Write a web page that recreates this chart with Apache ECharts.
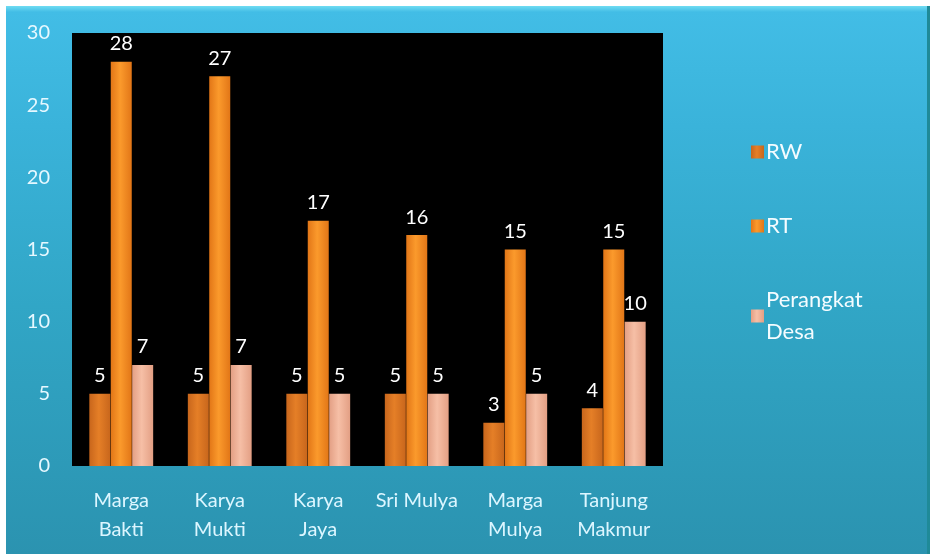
<!DOCTYPE html>
<html>
<head>
<meta charset="utf-8">
<script src="https://cdn.jsdelivr.net/npm/echarts@6/dist/echarts.min.js"></script>
<style>
  html, body { margin: 0; padding: 0; background: #ffffff; }
  #frame {
    position: absolute; left: 6px; top: 6px; width: 921px; height: 548px;
    background: linear-gradient(to bottom, #6fdcf2 0px, #42bde6 6px, #3ab3da 120px, #31a6c6 300px, #2b93b0 548px);
    border-right: 3px solid #1f8a98;
  }
  #chart { position: absolute; left: 0; top: 0; width: 931px; height: 556px; }
</style>
</head>
<body>
<div id="frame"></div>
<div id="chart"></div>
<script>
// data
const categories = ['Marga\nBakti', 'Karya\nMukti', 'Karya\nJaya', 'Sri Mulya', 'Marga\nMulya', 'Tanjung\nMakmur'];
const rwValues = [5, 5, 5, 5, 3, 4];
const rtValues = [28, 27, 17, 16, 15, 15];
const perangkatValues = [7, 7, 5, 5, 5, 10];
const yTicks = { min: 0, max: 30, interval: 5 };

const fontFamily = 'Lato, "Open Sans", sans-serif';

// bar fill with a bevel look
const barFill = (edge, mid) => new echarts.graphic.LinearGradient(0, 0, 1, 0, [
  { offset: 0, color: edge },
  { offset: 0.45, color: mid },
  { offset: 1, color: edge }
]);

const labelStyle = {
  show: true,
  position: 'top',
  distance: 8,
  color: '#ffffff',
  fontSize: 20,
  fontFamily: fontFamily
};

const chart = echarts.init(document.getElementById('chart'), null, { renderer: 'canvas' });

const option = {
  backgroundColor: 'transparent',
  animation: false,
  grid: {
    left: 72,
    right: 268,
    top: 33,
    bottom: 90,
    show: true,
    backgroundColor: '#000000',
    borderWidth: 0
  },
  legend: {
    orient: 'vertical',
    left: 746,
    top: 131,
    itemWidth: 13,
    itemHeight: 13,
    itemGap: 42,
    icon: 'rect',
    formatter: name => name.replace(' ', '\n'),
    textStyle: {
      color: '#f4fcff',
      fontSize: 22,
      fontFamily: fontFamily,
      lineHeight: 32,
      padding: [0, 0, 0, -3]
    },
    data: ['RW', 'RT', 'Perangkat Desa']
  },
  xAxis: {
    type: 'category',
    data: categories,
    axisLine: { show: false },
    axisTick: { show: false },
    axisLabel: {
      interval: 0,
      margin: 20,
      color: '#dcf6ff',
      fontSize: 20,
      lineHeight: 29,
      fontFamily: fontFamily
    }
  },
  yAxis: {
    type: 'value',
    min: yTicks.min,
    max: yTicks.max,
    interval: yTicks.interval,
    splitLine: { show: false },
    axisLine: { show: false },
    axisTick: { show: false },
    axisLabel: {
      margin: 22,
      color: '#e6f8ff',
      fontSize: 20,
      fontFamily: fontFamily
    }
  },
  series: [
    {
      name: 'RW',
      type: 'bar',
      barWidth: 21,
      barGap: '2%',
      data: rwValues,
      itemStyle: { color: barFill('#c8661c', '#e57f27') },
      label: labelStyle
    },
    {
      name: 'RT',
      type: 'bar',
      barWidth: 21,
      barGap: '2%',
      data: rtValues,
      itemStyle: { color: barFill('#e27617', '#fb9a2c') },
      label: labelStyle
    },
    {
      name: 'Perangkat Desa',
      type: 'bar',
      barWidth: 21,
      barGap: '2%',
      data: perangkatValues,
      itemStyle: { color: barFill('#e39f84', '#f6bfa6') },
      label: labelStyle
    }
  ]
};

chart.setOption(option);
</script>
</body>
</html>
